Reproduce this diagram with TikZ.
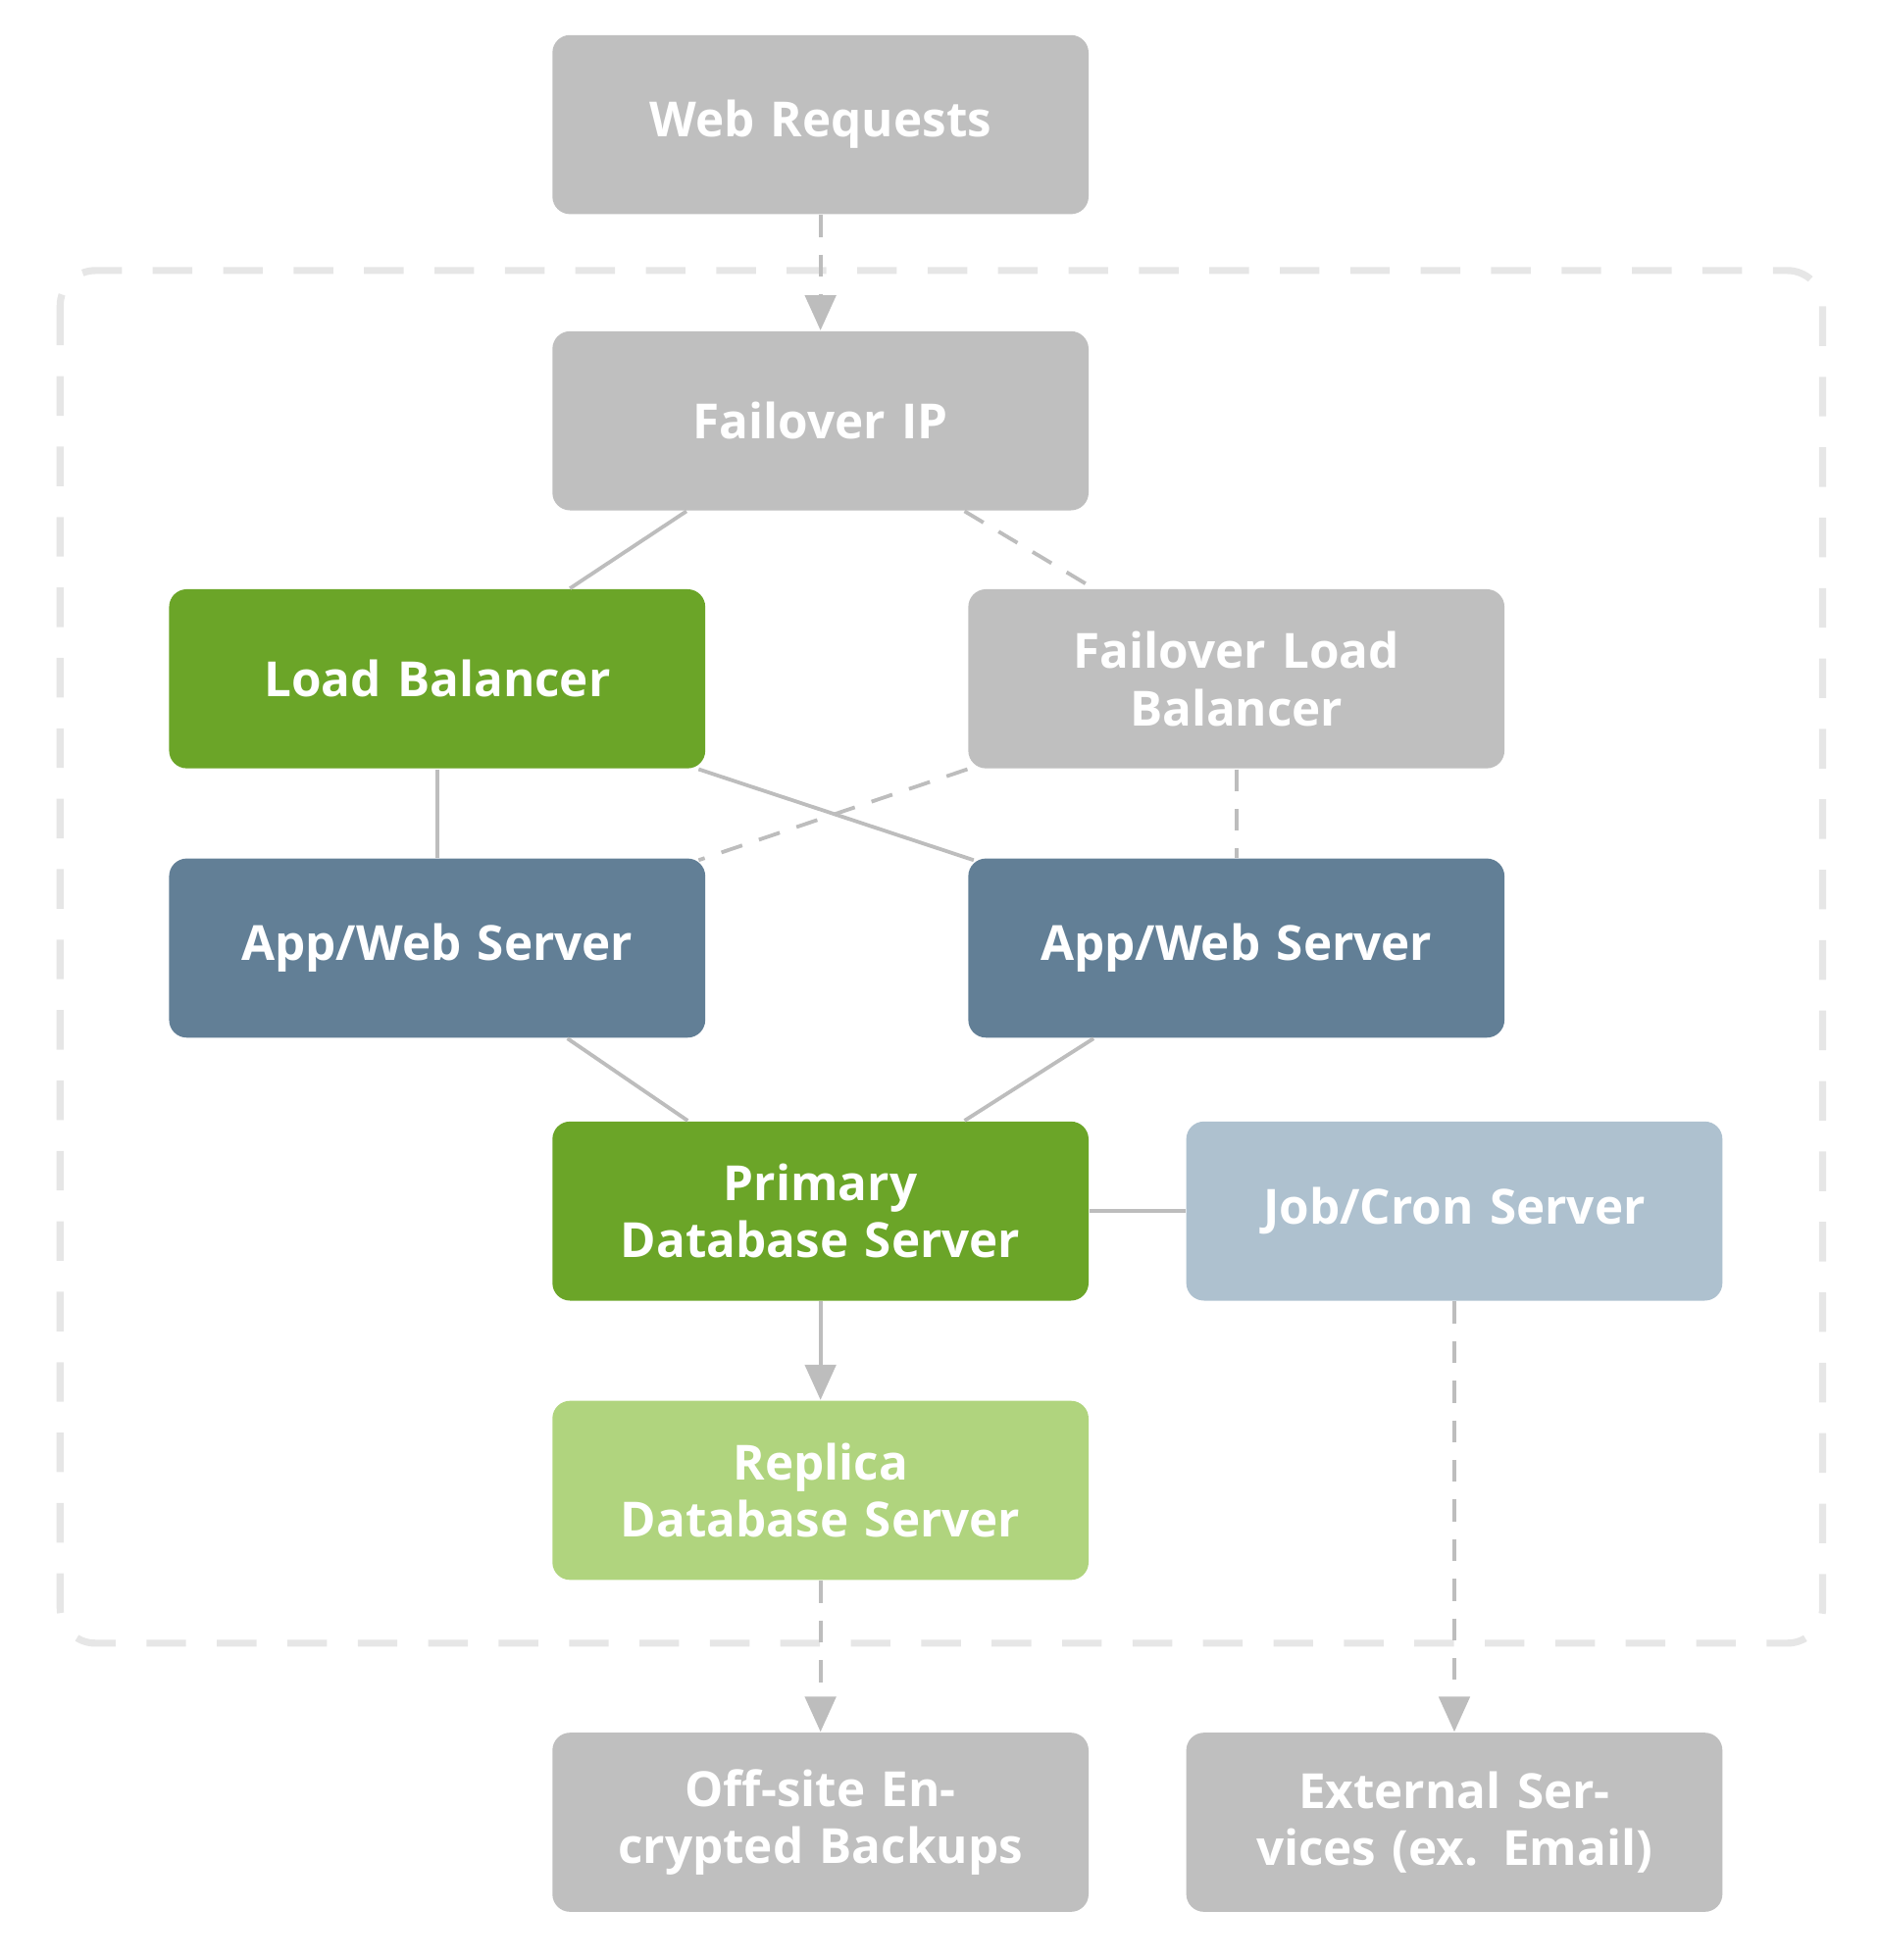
\documentclass[tikz,border=0pt]{standalone}
\usepackage{fontspec}
\setmainfont{Open Sans}
\usetikzlibrary{positioning,calc,arrows.meta}
\definecolor{boxgray}{HTML}{BFBFBF}
\definecolor{boxgreen}{HTML}{6BA528}
\definecolor{boxlime}{HTML}{B0D47E}
\definecolor{boxslate}{HTML}{627F96}
\definecolor{boxsky}{HTML}{AEC1CF}
\definecolor{linegray}{HTML}{BDBDBD}
\definecolor{framegray}{HTML}{E6E6E6}
\tikzset{
  box/.style={rectangle, rounded corners=4pt, minimum width=4.28cm, minimum height=1.43cm,
    text width=3.9cm, align=center, text=white, font=\bfseries\fontsize{11}{13}\selectfont, inner sep=0pt},
  link/.style={draw=linegray, line width=0.85pt},
  flink/.style={link, dash pattern=on 5pt off 4pt},
  tip/.style={-{Triangle[width=7pt,length=8pt]}}
}
\begin{document}
\begin{tikzpicture}
\useasboundingbox (0,0) rectangle (15,-15.65);

\draw[framegray, line width=1.6pt, dash pattern=on 9pt off 7pt, rounded corners=8pt]
  (0.48,-2.16) rectangle (14.55,-13.12);

\node[box, fill=boxgray] (web) at (6.55,-0.995) {Web Requests};
\node[box, fill=boxgray] (fip) at (6.55,-3.36) {Failover IP};
\node[box, fill=boxgreen] (lb) at (3.49,-5.42) {Load Balancer};
\node[box, fill=boxgray] (flb) at (9.87,-5.42) {Failover Load Balancer};
\node[box, fill=boxslate] (appa) at (3.49,-7.57) {App/Web Server};
\node[box, fill=boxslate] (appb) at (9.87,-7.57) {App/Web Server};
\node[box, fill=boxgreen] (pdb) at (6.55,-9.67) {Primary Database Server};
\node[box, fill=boxsky] (job) at (11.61,-9.67) {Job/Cron Server};
\node[box, fill=boxlime] (rdb) at (6.55,-11.90) {Replica Database Server};
\node[box, fill=boxgray] (bak) at (6.55,-14.55) {Off-site Encrypted Backups};
\node[box, fill=boxgray] (ext) at (11.61,-14.55) {External Services (ex. Email)};

% connectors
\draw[flink, tip, linegray] (web) -- (fip);
\draw[link] ($(fip.south)+(-1.07,0)$) -- ($(lb.north)+(1.06,0)$);
\draw[flink] ($(fip.south)+(1.15,0)$) -- ($(flb.north)+(-1.14,0)$);
\draw[link] (lb) -- (appa);
\draw[link] ($(lb.south east)+(-0.06,0)$) -- ($(appb.north west)+(0.05,-0.02)$);
\draw[flink] (flb.south west) -- ($(appa.north east)+(-0.06,-0.02)$);
\draw[flink] (flb) -- (appb);
\draw[link] ($(appa.south)+(1.04,0)$) -- ($(pdb.north)+(-1.06,0)$);
\draw[link] ($(appb.south)+(-1.14,0)$) -- ($(pdb.north)+(1.15,0)$);
\draw[link] (pdb) -- (job);
\draw[link, tip, linegray] (pdb) -- (rdb);
\draw[flink, tip, linegray] (rdb) -- (bak);
\draw[flink, tip, linegray] (job) -- (ext);
\end{tikzpicture}
\end{document}
